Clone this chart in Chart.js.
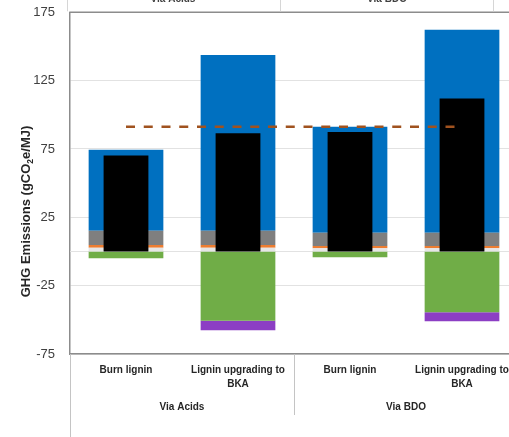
<!DOCTYPE html>
<html>
<head>
<meta charset="utf-8">
<script src="https://cdn.jsdelivr.net/npm/chart.js@4.4.1/dist/chart.umd.min.js"></script>
<style>
  html, body { margin: 0; padding: 0; background: #ffffff; overflow: hidden; }
  #wrap { position: absolute; left: 0; top: 0; width: 520px; height: 437px; }
</style>
</head>
<body>
<div id="wrap"><canvas id="chart"></canvas></div>
<script>
// Categories (two-line labels) and the process groups they belong to
const categories = [["Burn lignin"], ["Lignin upgrading to", "BKA"], ["Burn lignin"], ["Lignin upgrading to", "BKA"]];
const groups = ["Via Acids", "Via BDO"];
const groupMembers = [[0, 1], [2, 3]];

// Y axis range and tick spacing (gCO2e/MJ)
const yMin = -75;
const yMax = 175;
const yStep = 50;

// Positive contributions, stacked upward from zero
const lightGrayValues = [2.8, 2.8, 2.3, 2.3];
const orangeValues = [2.0, 2.0, 1.8, 1.8];
const grayValues = [10.4, 10.4, 9.7, 9.7];
const blueValues = [59.3, 128.6, 77.5, 148.5];
// Credits, stacked downward from zero
const greenValues = [-5.0, -50.6, -4.2, -44.5];
const purpleValues = [0, -7.1, 0, -6.6];
// Net emissions (narrow black bars)
const netValues = [70.3, 86.6, 87.4, 112.0];
// Fossil reference level (dashed line)
const referenceValues = [91.2, 91.2, 91.2, 91.2];

const LABEL_FONT = "'Liberation Sans', Arial, sans-serif";

const stackedBar = (label, data, color) => ({
  type: 'bar',
  label,
  data,
  backgroundColor: color,
  borderWidth: 0,
  stack: 'parts',
  grouped: false,
  categoryPercentage: 1.0,
  barPercentage: 0.667,
  order: 3
});

const decor = {
  id: 'decor',
  beforeDatasetsDraw(chart) {
    const { ctx, chartArea: a, scales: { y } } = chart;
    ctx.save();
    // zero line behind the bars
    const y0 = Math.round(y.getPixelForValue(0)) + 0.5;
    ctx.strokeStyle = '#e2e2e2';
    ctx.lineWidth = 1;
    ctx.beginPath(); ctx.moveTo(a.left, y0); ctx.lineTo(a.right, y0); ctx.stroke();
    // top edge of the plot frame
    ctx.strokeStyle = '#8c8c8c';
    ctx.lineWidth = 1.5;
    ctx.beginPath(); ctx.moveTo(a.left - 0.75, a.top); ctx.lineTo(a.right, a.top); ctx.stroke();
    ctx.restore();
  },
  afterDraw(chart) {
    const { ctx, chartArea: a, scales: { x } } = chart;
    const H = chart.height;
    ctx.save();

    // category axis frame lines below the plot
    ctx.strokeStyle = '#c4c4c4';
    ctx.lineWidth = 1;
    ctx.beginPath();
    ctx.moveTo(a.left + 0.5, a.bottom); ctx.lineTo(a.left + 0.5, H);
    const sepX = Math.round((x.getPixelForValue(1) + x.getPixelForValue(2)) / 2) + 0.5;
    ctx.moveTo(sepX, a.bottom); ctx.lineTo(sepX, a.bottom + 61);
    ctx.stroke();

    // category labels
    ctx.fillStyle = '#262626';
    ctx.font = "bold 10px " + LABEL_FONT;
    ctx.textAlign = 'center';
    ctx.textBaseline = 'middle';
    categories.forEach((lines, i) => {
      const px = x.getPixelForValue(i);
      lines.forEach((t, k) => ctx.fillText(t, px, a.bottom + 16.7 + k * 13.6));
    });
    // group labels
    groups.forEach((g, gi) => {
      const m = groupMembers[gi];
      const px = (x.getPixelForValue(m[0]) + x.getPixelForValue(m[m.length - 1])) / 2;
      ctx.fillText(g, px, a.bottom + 53.7);
    });

    // group header strip along the top edge of the page
    ctx.strokeStyle = '#d6d6d6';
    ctx.beginPath();
    [67, 280, 493].forEach(sx => { ctx.moveTo(sx + 0.5, 0); ctx.lineTo(sx + 0.5, a.top - 1); });
    ctx.stroke();
    ctx.textBaseline = 'alphabetic';
    ctx.fillStyle = '#404040';
    ctx.fillText(groups[0], 173, 1.7);
    ctx.fillText(groups[1], 387, 1.7);

    // rotated y axis title with subscript
    const parts = [
      { t: 'GHG Emissions (gCO', size: 13, dy: 0 },
      { t: '2', size: 8.5, dy: 3 },
      { t: 'e/MJ)', size: 13, dy: 0 }
    ];
    let total = 0;
    parts.forEach(p => { ctx.font = `bold ${p.size}px ${LABEL_FONT}`; p.w = ctx.measureText(p.t).width; total += p.w; });
    ctx.translate(30, 211.5);
    ctx.rotate(-Math.PI / 2);
    ctx.fillStyle = '#262626';
    ctx.textAlign = 'left';
    ctx.textBaseline = 'alphabetic';
    let cx = -total / 2;
    parts.forEach(p => {
      ctx.font = `bold ${p.size}px ${LABEL_FONT}`;
      ctx.fillText(p.t, cx, p.dy);
      cx += p.w;
    });
    ctx.restore();
  }
};

new Chart(document.getElementById('chart'), {
  data: {
    labels: categories.map(c => c.join(' ')),
    datasets: [
      {
        type: 'line',
        label: 'Reference',
        data: referenceValues,
        borderColor: '#A0521F',
        borderWidth: 2.5,
        borderDash: [9, 8.75],
        pointRadius: 0,
        fill: false,
        order: 0
      },
      {
        type: 'bar',
        label: 'Net',
        data: netValues,
        backgroundColor: '#000000',
        borderWidth: 0,
        stack: 'net',
        grouped: false,
        categoryPercentage: 1.0,
        barPercentage: 0.40,
        order: 1
      },
      stackedBar('Light gray', lightGrayValues, '#E6E6E6'),
      stackedBar('Orange', orangeValues, '#ED7D31'),
      stackedBar('Gray', grayValues, '#7F7F7F'),
      stackedBar('Blue', blueValues, '#0070C0'),
      stackedBar('Green', greenValues, '#70AD47'),
      stackedBar('Purple', purpleValues, '#8C3EC4')
    ]
  },
  options: {
    responsive: true,
    maintainAspectRatio: false,
    animation: false,
    devicePixelRatio: 1,
    layout: { padding: { left: 0, right: 2, top: 12.3, bottom: 0 } },
    plugins: { legend: { display: false }, tooltip: { enabled: false } },
    scales: {
      x: {
        type: 'category',
        stacked: true,
        offset: true,
        grid: { display: false, drawTicks: false },
        border: { display: true, color: '#8c8c8c', width: 1.5 },
        ticks: { display: false },
        afterFit: (s) => { s.height = 83; }
      },
      y: {
        type: 'linear',
        stacked: true,
        min: yMin,
        max: yMax,
        ticks: {
          stepSize: yStep,
          padding: 0,
          color: '#404040',
          font: { family: LABEL_FONT, size: 13 }
        },
        grid: { color: '#e2e2e2', lineWidth: 1, drawTicks: true, tickLength: 15, tickColor: 'rgba(0,0,0,0)' },
        border: { display: true, color: '#8c8c8c', width: 1.5 },
        afterFit: (s) => { s.width = 70; }
      }
    }
  },
  plugins: [decor]
});
</script>
</body>
</html>
